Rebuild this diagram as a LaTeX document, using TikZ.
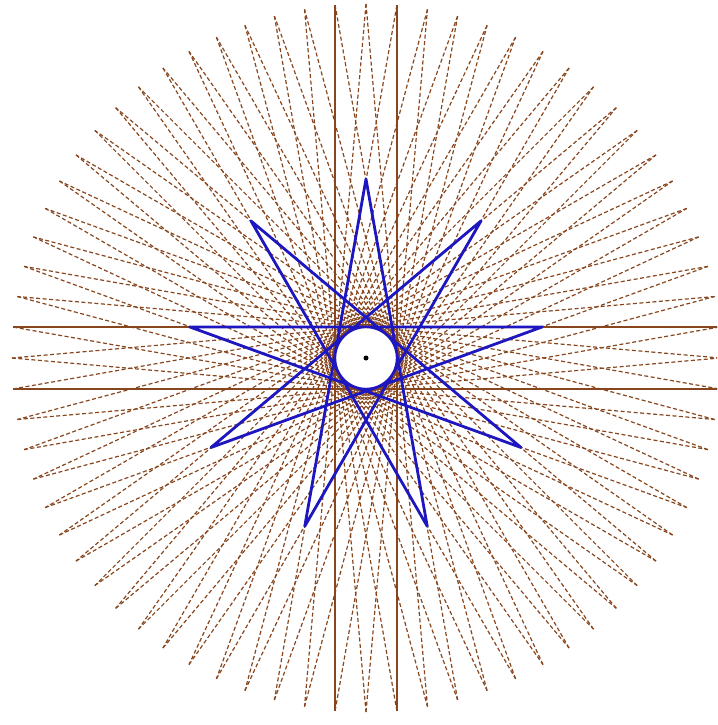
\documentclass[tikz,border=0pt]{standalone}
\definecolor{rayBrown}{RGB}{135,70,30}
\definecolor{starBlue}{RGB}{30,22,190}
\begin{document}
\begin{tikzpicture}[
        x=1pt, y=1pt,
        chord/.style={rayBrown, line width=1.2pt, dash pattern=on 4pt off 2.5pt},
        axischord/.style={rayBrown, line width=1.8pt},
        starline/.style={starBlue, line width=2.8pt, line join=round},
        hub/.style={circle, draw=starBlue, fill=white, line width=2.4pt, minimum size=62pt, inner sep=0pt}
        ]
        \useasboundingbox (0,-725) rectangle (717,0);
        \clip (0,-725) rectangle (717,0);
        \begin{scope}[shift={(366,-358)}]

        % Outer points: every 5 degrees on the big circle
        \foreach \i in {0,...,71} \coordinate (p\i) at (\i*5:354);

        % Chords over 34 steps, all tangent to the hub
        \foreach \i in {0,...,71} {
            \pgfmathtruncatemacro{\j}{mod(\i+34,72)}
            \draw [chord] (p\i) -- (p\j);
        }

        % The four chords along the axes are solid
        \foreach \i in {1,19,37,55} {
            \pgfmathtruncatemacro{\j}{mod(\i+34,72)}
            \draw [axischord] (p\i) -- (p\j);
        }

        % Nine-pointed star {9/4}
        \foreach \k in {0,...,8} \coordinate (s\k) at (90+\k*40:179);
        \draw [starline] (s0) -- (s4) -- (s8) -- (s3) -- (s7) -- (s2) -- (s6) -- (s1) -- (s5) -- cycle;

        % Hub and centre dot
        \node (hub) [hub] at (0,0) {};
        \fill (hub.center) circle (2.5pt);

        \end{scope}
    \end{tikzpicture}
\end{document}
